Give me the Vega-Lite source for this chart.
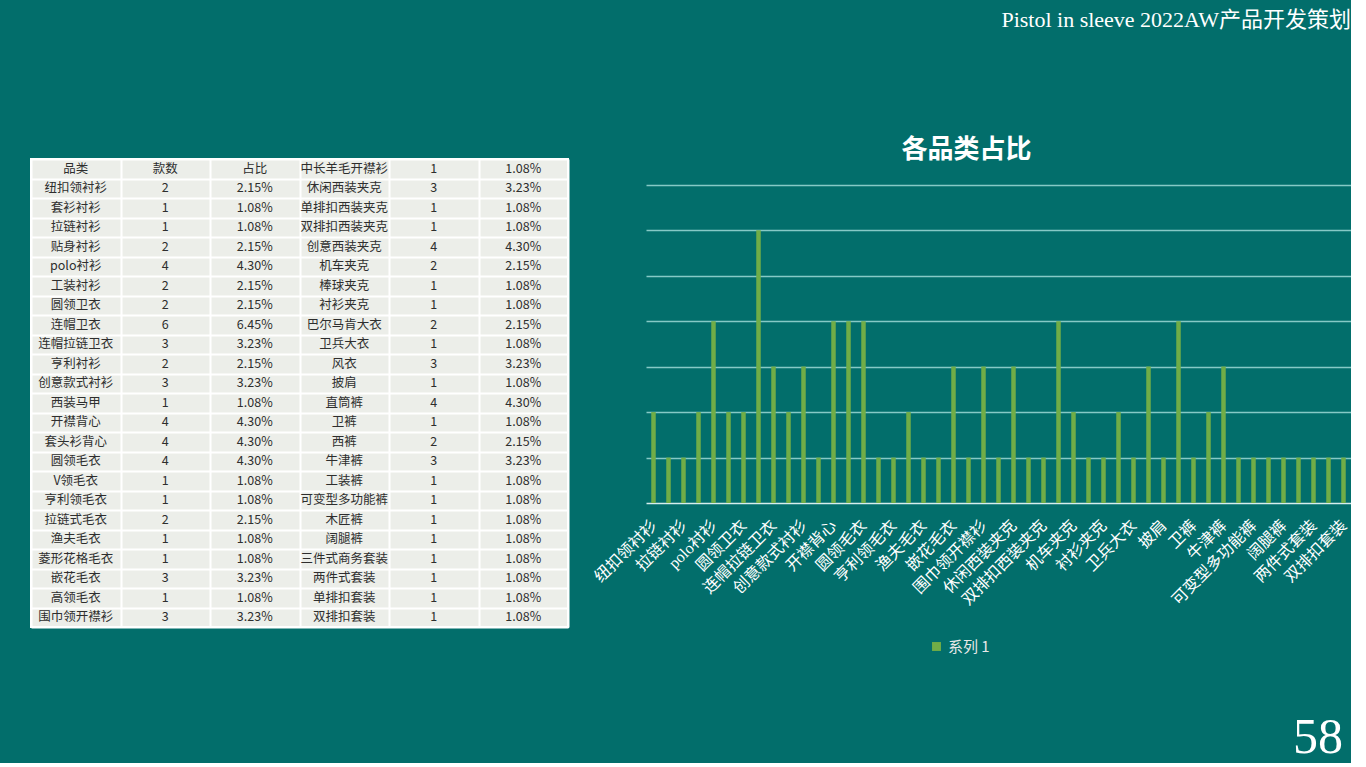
{
  "$schema": "https://vega.github.io/schema/vega-lite/v6.json",
  "background": "#026e6b",
  "padding": {"left": 30, "top": 9, "right": 0, "bottom": 0},
  "title": {"text": "Pistol in sleeve 2022AW产品开发策划", "anchor": "end", "font": "Liberation Serif, Noto Sans CJK SC", "fontSize": 22, "fontWeight": "normal", "color": "#ffffff", "offset": 105},
  "datasets": {
    "items": [
      {"idx": 1, "name": "纽扣领衬衫", "count": 2, "pct": "2.15%"},
      {"idx": 2, "name": "套衫衬衫", "count": 1, "pct": "1.08%"},
      {"idx": 3, "name": "拉链衬衫", "count": 1, "pct": "1.08%"},
      {"idx": 4, "name": "贴身衬衫", "count": 2, "pct": "2.15%"},
      {"idx": 5, "name": "polo衬衫", "count": 4, "pct": "4.30%"},
      {"idx": 6, "name": "工装衬衫", "count": 2, "pct": "2.15%"},
      {"idx": 7, "name": "圆领卫衣", "count": 2, "pct": "2.15%"},
      {"idx": 8, "name": "连帽卫衣", "count": 6, "pct": "6.45%"},
      {"idx": 9, "name": "连帽拉链卫衣", "count": 3, "pct": "3.23%"},
      {"idx": 10, "name": "亨利衬衫", "count": 2, "pct": "2.15%"},
      {"idx": 11, "name": "创意款式衬衫", "count": 3, "pct": "3.23%"},
      {"idx": 12, "name": "西装马甲", "count": 1, "pct": "1.08%"},
      {"idx": 13, "name": "开襟背心", "count": 4, "pct": "4.30%"},
      {"idx": 14, "name": "套头衫背心", "count": 4, "pct": "4.30%"},
      {"idx": 15, "name": "圆领毛衣", "count": 4, "pct": "4.30%"},
      {"idx": 16, "name": "V领毛衣", "count": 1, "pct": "1.08%"},
      {"idx": 17, "name": "亨利领毛衣", "count": 1, "pct": "1.08%"},
      {"idx": 18, "name": "拉链式毛衣", "count": 2, "pct": "2.15%"},
      {"idx": 19, "name": "渔夫毛衣", "count": 1, "pct": "1.08%"},
      {"idx": 20, "name": "菱形花格毛衣", "count": 1, "pct": "1.08%"},
      {"idx": 21, "name": "嵌花毛衣", "count": 3, "pct": "3.23%"},
      {"idx": 22, "name": "高领毛衣", "count": 1, "pct": "1.08%"},
      {"idx": 23, "name": "围巾领开襟衫", "count": 3, "pct": "3.23%"},
      {"idx": 24, "name": "中长羊毛开襟衫", "count": 1, "pct": "1.08%"},
      {"idx": 25, "name": "休闲西装夹克", "count": 3, "pct": "3.23%"},
      {"idx": 26, "name": "单排扣西装夹克", "count": 1, "pct": "1.08%"},
      {"idx": 27, "name": "双排扣西装夹克", "count": 1, "pct": "1.08%"},
      {"idx": 28, "name": "创意西装夹克", "count": 4, "pct": "4.30%"},
      {"idx": 29, "name": "机车夹克", "count": 2, "pct": "2.15%"},
      {"idx": 30, "name": "棒球夹克", "count": 1, "pct": "1.08%"},
      {"idx": 31, "name": "衬衫夹克", "count": 1, "pct": "1.08%"},
      {"idx": 32, "name": "巴尔马肯大衣", "count": 2, "pct": "2.15%"},
      {"idx": 33, "name": "卫兵大衣", "count": 1, "pct": "1.08%"},
      {"idx": 34, "name": "风衣", "count": 3, "pct": "3.23%"},
      {"idx": 35, "name": "披肩", "count": 1, "pct": "1.08%"},
      {"idx": 36, "name": "直筒裤", "count": 4, "pct": "4.30%"},
      {"idx": 37, "name": "卫裤", "count": 1, "pct": "1.08%"},
      {"idx": 38, "name": "西裤", "count": 2, "pct": "2.15%"},
      {"idx": 39, "name": "牛津裤", "count": 3, "pct": "3.23%"},
      {"idx": 40, "name": "工装裤", "count": 1, "pct": "1.08%"},
      {"idx": 41, "name": "可变型多功能裤", "count": 1, "pct": "1.08%"},
      {"idx": 42, "name": "木匠裤", "count": 1, "pct": "1.08%"},
      {"idx": 43, "name": "阔腿裤", "count": 1, "pct": "1.08%"},
      {"idx": 44, "name": "三件式商务套装", "count": 1, "pct": "1.08%"},
      {"idx": 45, "name": "两件式套装", "count": 1, "pct": "1.08%"},
      {"idx": 46, "name": "单排扣套装", "count": 1, "pct": "1.08%"},
      {"idx": 47, "name": "双排扣套装", "count": 1, "pct": "1.08%"}
    ]
  },
  "vconcat": [
    {
      "title": {"text": "58", "orient": "bottom", "anchor": "end", "font": "Liberation Serif", "fontSize": 50, "fontWeight": "normal", "color": "#ffffff", "offset": 85, "dx": -8},
      "bounds": "flush",
      "spacing": 78,
      "hconcat": [
        {
          "width": 537,
          "height": 468,
          "view": {"fill": "#eceee9", "stroke": "#ffffff", "strokeWidth": 2},
          "encoding": {
            "x": {"field": "cell", "type": "nominal", "sort": ["Aname", "Acount", "Apct", "Bname", "Bcount", "Bpct"], "scale": {"padding": 0}, "axis": {"grid": true, "tickBand": "extent", "gridColor": "#ffffff", "gridWidth": 2, "gridOpacity": 1, "labels": false, "ticks": false, "domain": false, "title": null}},
            "y": {"field": "row", "type": "ordinal", "scale": {"padding": 0}, "axis": {"grid": true, "tickBand": "extent", "gridColor": "#ffffff", "gridWidth": 2, "gridOpacity": 1, "labels": false, "ticks": false, "domain": false, "title": null}},
            "text": {"field": "val", "type": "nominal"}
          },
          "layer": [
            {
              "data": {"values": [{"idx": 0, "name": "品类", "count": "款数", "pct": "占比"}]},
              "transform": [
                {"calculate": "datum.idx <= 23 ? 'A' : 'B'", "as": "part"},
                {"calculate": "datum.idx <= 23 ? datum.idx : datum.idx - 24", "as": "row"},
                {"fold": ["name", "count", "pct"], "as": ["col", "val"]},
                {"calculate": "datum.part + datum.col", "as": "cell"}
              ],
              "mark": {"type": "text", "font": "Noto Sans CJK SC", "fontSize": 12.5, "color": "#2e2e2e"}
            },
            {
              "data": {"name": "items"},
              "transform": [
                {"calculate": "datum.idx <= 23 ? 'A' : 'B'", "as": "part"},
                {"calculate": "datum.idx <= 23 ? datum.idx : datum.idx - 24", "as": "row"},
                {"fold": ["name", "count", "pct"], "as": ["col", "val"]},
                {"calculate": "datum.part + datum.col", "as": "cell"}
              ],
              "mark": {"type": "text", "font": "Noto Sans CJK SC", "fontSize": 12.5, "color": "#2e2e2e"}
            }
          ]
        },
        {
          "width": 705,
          "height": 344,
          "view": {"stroke": null},
          "data": {"name": "items"},
          "title": {"text": "各品类占比", "font": "Noto Sans CJK SC", "fontSize": 26, "fontWeight": "bold", "color": "#ffffff", "anchor": "middle", "frame": "group", "dx": -32, "offset": -4},
          "mark": {"type": "bar"},
          "encoding": {
            "x": {
              "field": "name", "type": "nominal",
              "sort": {"field": "idx", "op": "min", "order": "ascending"},
              "scale": {"paddingInner": 0.7, "paddingOuter": 0.35},
              "axis": {
                "values": ["纽扣领衬衫", "拉链衬衫", "polo衬衫", "圆领卫衣", "连帽拉链卫衣", "创意款式衬衫", "开襟背心", "圆领毛衣", "亨利领毛衣", "渔夫毛衣", "嵌花毛衣", "围巾领开襟衫", "休闲西装夹克", "双排扣西装夹克", "机车夹克", "衬衫夹克", "卫兵大衣", "披肩", "卫裤", "牛津裤", "可变型多功能裤", "阔腿裤", "两件式套装", "双排扣套装"],
                "labelAngle": -45, "labelFont": "Liberation Serif, Noto Sans CJK SC", "labelFontSize": 16, "labelColor": "#ffffff",
                "labelPadding": 14, "labelOffset": -5, "labelOverlap": false, "labelBound": false,
                "ticks": false, "domain": true, "domainColor": "#d6eeee", "domainWidth": 1.5, "grid": false, "title": null
              }
            },
            "y": {
              "field": "count", "type": "quantitative",
              "scale": {"domain": [0, 7.567], "nice": false},
              "axis": {"values": [1, 2, 3, 4, 5, 6, 7], "grid": true, "gridColor": "#86c9c6", "gridWidth": 1.5, "gridOpacity": 1, "labels": false, "ticks": false, "domain": false, "title": null}
            },
            "color": {
              "datum": "系列 1", "type": "nominal",
              "scale": {"range": ["#70ad47"]},
              "legend": {"orient": "none", "legendX": 898, "legendY": 480, "direction": "horizontal", "title": null, "symbolType": "square", "symbolSize": 80, "symbolStrokeWidth": 0, "labelColor": "#e8e8e8", "labelFontSize": 15, "labelFont": "Noto Sans CJK SC"}
            }
          }
        }
      ]
    }
  ]
}
